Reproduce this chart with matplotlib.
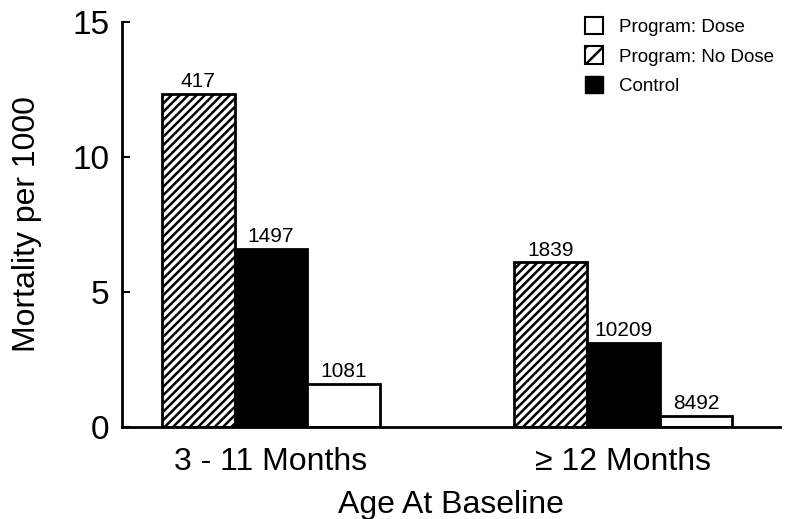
import matplotlib.pyplot as plt
from matplotlib.patches import Patch

plt.rcParams['font.family'] = ['Liberation Sans', 'DejaVu Sans']
plt.rcParams['hatch.linewidth'] = 1.8

groups = ["3 - 11 Months", "\u2265 12 Months"]
no_dose = [12.33, 6.1]
control = [6.59, 3.11]
dose = [1.59, 0.41]
no_dose_n = ["417", "1839"]
control_n = ["1497", "10209"]
dose_n = ["1081", "8492"]

fig = plt.figure(figsize=(7.88, 5.19), dpi=100)
ax = fig.add_axes([0.155, 0.177, 0.835, 0.781])

x = [0, 1]
w = 0.207
b1 = ax.bar([i - w for i in x], no_dose, w, color="white", edgecolor="black",
            hatch="////", linewidth=2)
b2 = ax.bar(x, control, w, color="black", edgecolor="black", linewidth=2)
b3 = ax.bar([i + w for i in x], dose, w, color="white", edgecolor="black",
            linewidth=2)

for bars, labels in [(b1, no_dose_n), (b2, control_n), (b3, dose_n)]:
    ax.bar_label(bars, labels=labels, padding=2, fontsize=15)

ax.set_xlim(-0.423, 1.446)
ax.set_ylim(0, 15)
ax.set_yticks([0, 5, 10, 15])
ax.set_xticks(x)
ax.set_xticklabels(groups, fontsize=23)
ax.tick_params(axis="x", length=0, pad=14)
ax.tick_params(axis="y", direction="in", length=6, width=1.5, labelsize=24, pad=9)
for s in ["top", "right"]:
    ax.spines[s].set_visible(False)
ax.spines["left"].set_linewidth(2)
ax.spines["bottom"].set_linewidth(2)

ax.set_ylabel("Mortality per 1000", fontsize=23, labelpad=22)
ax.set_xlabel("Age At Baseline", fontsize=23, labelpad=10)

handles = [
    Patch(facecolor="white", edgecolor="black", linewidth=1.5, label="Program: Dose"),
    Patch(facecolor="white", edgecolor="black", linewidth=1.5, hatch="//", label="Program: No Dose"),
    Patch(facecolor="black", edgecolor="black", label="Control"),
]
fig.legend(handles=handles, loc="upper left", frameon=False, fontsize=13.5,
           handlelength=0.95, handleheight=1.05, handletextpad=0.85,
           labelspacing=0.55, borderpad=0, borderaxespad=0,
           bbox_to_anchor=(585 / 788, 1 - 17 / 519))

fig.savefig("out.png", dpi=100)
